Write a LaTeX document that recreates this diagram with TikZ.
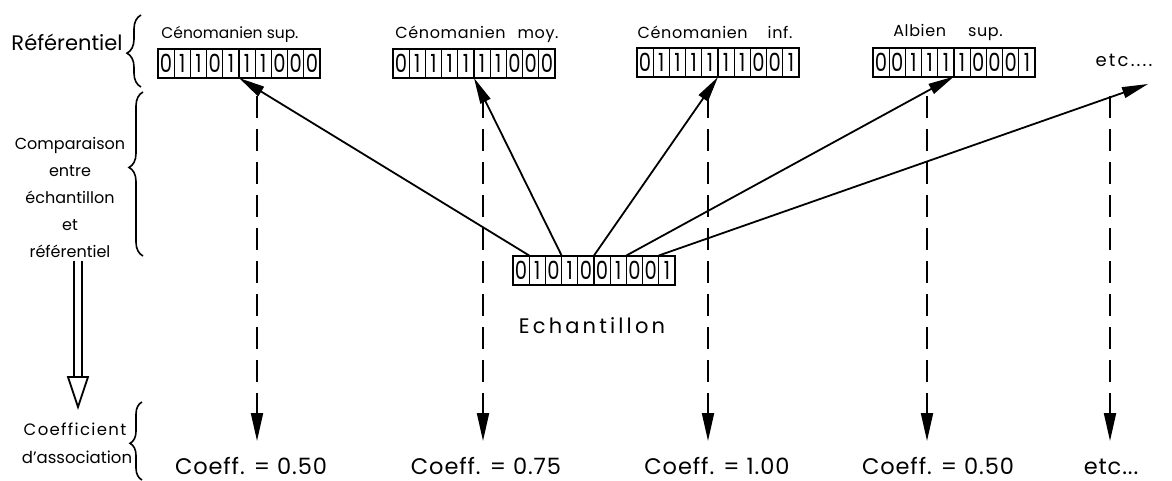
\documentclass[tikz,border=0pt]{standalone}
\usepackage{fontspec}
\usepackage{graphicx}
\setmainfont{Poppins}
\usetikzlibrary{arrows.meta,decorations.pathreplacing,fit,calc}

\newcommand{\register}[4]{% #1 name, #2 left x, #3 centre y, #4 digits
  \foreach \d [count=\i] in {#4} {
    \node[cell] (#1-\i) at ({#2+(\i-0.5)*16.2},#3) {\scalebox{0.78}[1]{\d}};
  }
  \node[frame, fit=(#1-1)(#1-10)] (#1) {};
}

\begin{document}
\begin{tikzpicture}[x=1pt,y=-1pt,
  cell/.style={draw,line width=1.3pt,minimum width=16.2pt,minimum height=29pt,
    inner sep=0pt,outer sep=0pt,font=\fontsize{25}{25}\selectfont},
  frame/.style={draw,line width=2pt,inner sep=0pt,outer sep=0pt},
  lbl/.style={anchor=base,inner sep=1pt,font=\fontsize{16}{18}\selectfont\addfontfeature{LetterSpace=4}},
  side/.style={anchor=base,inner sep=1pt},
  coef/.style={anchor=base,inner sep=0pt,font=\fontsize{22.5}{24}\selectfont\addfontfeature{LetterSpace=4}},
  arr/.style={line width=1.8pt,-{Triangle[length=26pt,width=11pt]}},
  dash arr/.style={line width=2pt,dash pattern=on 22pt off 11pt,
    -{Triangle[length=28pt,width=12pt]}},
  bracestyle/.style={decorate,line width=1.6pt},
]
\useasboundingbox (0,0) rectangle (1172,480);

% registers of the referential
\register{r1}{158}{63.5}{0,1,1,0,1,1,1,0,0,0}
\register{r2}{393}{63.5}{0,1,1,1,1,1,1,0,0,0}
\register{r3}{637}{62.5}{0,1,1,1,1,1,1,0,0,1}
\register{r4}{873}{62}{0,0,1,1,1,1,0,0,0,1}
% sample
\register{s}{513}{270}{0,1,0,1,0,0,1,0,0,1}

% labels
\node[lbl,font=\fontsize{15.5}{18}\selectfont] (l1) at (230,38) {Cénomanien sup.};
\node[lbl] (l2) at (477,38) {Cénomanien\hspace{12pt}moy.};
\node[lbl] (l3) at (715,38) {Cénomanien\hspace{20pt}inf.};
\node[lbl] (l4) at (948,36) {Albien\hspace{22pt}sup.};
\node[lbl,font=\fontsize{18}{20}\selectfont\addfontfeature{LetterSpace=12}] (etc) at (1124,66) {etc....};
\node[anchor=base,inner sep=1pt,font=\fontsize{21}{22}\selectfont\addfontfeature{LetterSpace=15}] (ech) at (592,333) {Echantillon};

% left column
\node[side,font=\fontsize{21}{24}\selectfont] (ref) at (67,50) {Référentiel};
\node[side,align=center,font=\fontsize{16}{27}\selectfont] (comp) at (70,257)
  {Comparaison\\entre\\échantillon\\et\\référentiel};
\node[side,font=\fontsize{16.5}{18}\selectfont\addfontfeature{LetterSpace=8}] (coe) at (75,435) {Coefficient};
\node[side,font=\fontsize{16.5}{18}\selectfont] (ass) at (77,463) {d’association};

% braces
\coordinate (b1a) at (141,87); \coordinate (b1b) at (141,15);
\coordinate (b2a) at (143,256); \coordinate (b2b) at (143,92);
\coordinate (b3a) at (142,480); \coordinate (b3b) at (142,402);
\draw[bracestyle,decoration={brace,amplitude=14pt,aspect=0.47}] (b1a) -- (b1b);
\draw[bracestyle,decoration={brace,amplitude=14pt,aspect=0.54}] (b2a) -- (b2b);
\draw[bracestyle,decoration={brace,amplitude=12pt,aspect=0.47}] (b3a) -- (b3b);

% double (implication) arrow
\coordinate (da) at (78,261);
\coordinate (db) at (78,407);
\draw[line width=1.8pt] ($(da)+(-4,0)$) -- ($(db)+(-4,-30)$);
\draw[line width=1.8pt] ($(da)+(4,0)$) -- ($(db)+(4,-30)$);
\draw[line width=1.8pt,line join=miter] ($(db)+(-10,-30)$) -- (db) -- ($(db)+(10,-30)$) -- cycle;

% solid arrows sample -> referential
\coordinate (etcend) at (1148,84);
\draw[arr] (s-1.north east) -- (r1-5.south east);
\draw[arr] (s-3.north east) -- (r2-5.south east);
\draw[arr] (s-5.north east) -- (r3-5.south east);
\draw[arr] (s-7.north east) -- (r4-5.south east);
\draw[arr] (s-9.north east) -- (etcend);

% coefficients
\node[coef] (c1) at (251,474) {Coeff. = 0.50};
\node[coef] (c2) at (486,474) {Coeff. = 0.75};
\node[coef] (c3) at (717,474) {Coeff. = 1.00};
\node[coef] (c4) at (938,474) {Coeff. = 0.50};
\node[coef] (c5) at (1111,474) {etc...};

% dashed arrows
\foreach \k/\xx in {1/257,2/483,3/708,4/927,5/1110} {
  \coordinate (d\k) at (\xx,96);
  \coordinate (e\k) at (\xx,441);
  \draw[dash arr] (d\k) -- (e\k);
}
\end{tikzpicture}
\end{document}
